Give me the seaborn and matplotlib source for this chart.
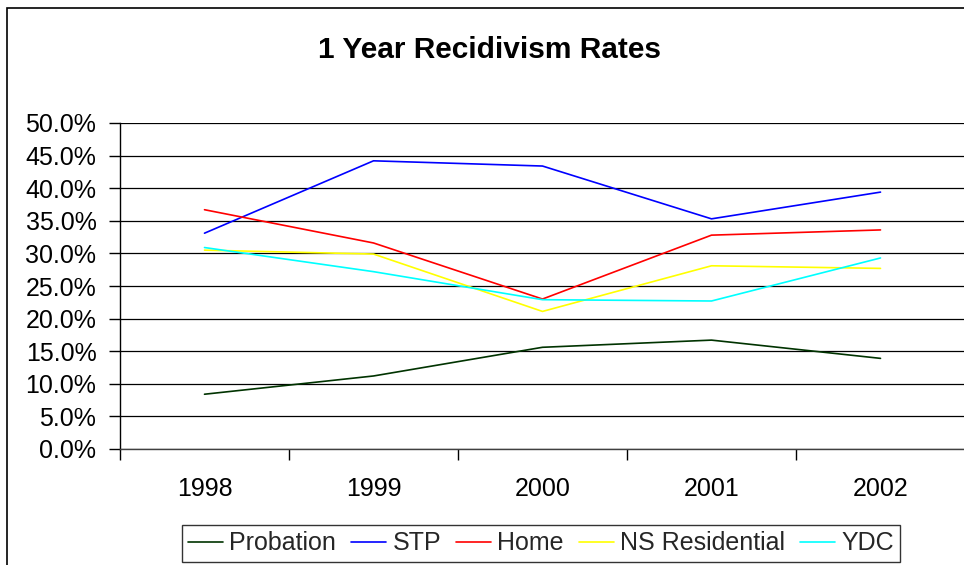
import matplotlib
matplotlib.use("Agg")
import matplotlib.pyplot as plt
from matplotlib.ticker import PercentFormatter, FixedLocator
from matplotlib.patches import Rectangle
import pandas as pd
import seaborn as sns

# Recidivism rates (%) by program and year
years = ["1998", "1999", "2000", "2001", "2002"]
probation = [8.4, 11.2, 15.6, 16.7, 13.9]
stp = [33.1, 44.2, 43.4, 35.3, 39.4]
home = [36.7, 31.6, 23.0, 32.8, 33.6]
ns_residential = [30.5, 29.9, 21.1, 28.1, 27.7]
ydc = [30.9, 27.2, 22.9, 22.7, 29.3]

series_names = ["Probation", "STP", "Home", "NS Residential", "YDC"]
series_values = [probation, stp, home, ns_residential, ydc]
colors = ["#003300", "#0000FF", "#FF0000", "#FFFF00", "#00FFFF"]

rows = []
for name, vals in zip(series_names, series_values):
    for i, v in enumerate(vals):
        rows.append({"pos": i, "year": years[i], "rate": v, "program": name})
df = pd.DataFrame(rows)

sns.set_theme(style="white")
plt.rcParams["font.family"] = ["Liberation Sans", "DejaVu Sans"]

W, H = 964, 565
fig = plt.figure(figsize=(W / 100, H / 100), dpi=100)
ax = fig.add_axes([120 / W, (H - 449) / H, 845 / W, (449 - 123) / H])

sns.lineplot(data=df, x="pos", y="rate", hue="program", hue_order=series_names,
             palette=colors, linewidth=1.2, ax=ax, legend=True)

ax.set_xlim(-0.5, 4.5)
ax.set_ylim(0, 50)
ax.set_xlabel("")
ax.set_ylabel("")

# Year labels centered on categories, ticks on category boundaries
ax.set_xticks(range(len(years)))
ax.set_xticklabels(years)
ax.xaxis.set_minor_locator(FixedLocator([i - 0.5 for i in range(len(years) + 1)]))
ax.tick_params(axis="x", which="major", length=0, pad=20, labelsize=18, colors="black")
ax.tick_params(axis="x", which="minor", length=8, width=1, direction="out",
               color="black", bottom=True)

ax.set_yticks([i * 5 for i in range(11)])
ax.yaxis.set_major_formatter(PercentFormatter(xmax=100, decimals=1))
ax.tick_params(axis="y", which="major", length=8, width=1, direction="out",
               pad=9, labelsize=18, colors="black", left=True)

ax.grid(axis="y", color="black", linewidth=0.9)
ax.grid(axis="x", visible=False)
ax.set_axisbelow(True)
for side in ["top", "right"]:
    ax.spines[side].set_visible(False)
ax.spines["left"].set_color("black")
ax.spines["left"].set_linewidth(1)
ax.spines["bottom"].set_color("#404040")
ax.spines["bottom"].set_linewidth(1)

fig.text(490 / W, 1 - 50 / H, "1 Year Recidivism Rates", ha="center", va="center",
         fontsize=21.5, fontweight="bold", color="black")

handles, labels = ax.get_legend_handles_labels()
ax.get_legend().remove()
leg = fig.legend(handles, labels, loc="center", ncol=5,
                 bbox_to_anchor=(541 / W, 1 - 543.5 / H),
                 fontsize=18, frameon=True, fancybox=False, edgecolor="black",
                 handlelength=1.4, handletextpad=0.25, columnspacing=0.6,
                 borderpad=0.25, borderaxespad=0)
leg.get_frame().set_linewidth(1)
for line in leg.get_lines():
    line.set_linewidth(1.2)

# Outer chart border
fig.patches.append(Rectangle((7 / W, -0.1), 2.0, 1.1 - 8 / H, transform=fig.transFigure,
                             fill=False, edgecolor="black", linewidth=1.2))

fig.savefig("out.png", dpi=100)
